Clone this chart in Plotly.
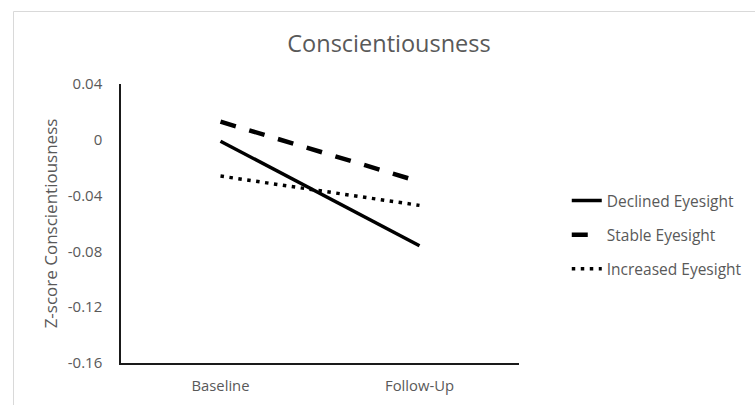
import plotly.graph_objects as go

categories = ["Baseline", "Follow-Up"]
declined = [-0.001, -0.076]
stable = [0.013, -0.030]
increased = [-0.026, -0.047]
series_names = ["Declined Eyesight", "Stable Eyesight", "Increased Eyesight"]
y_ticks = [0.04, 0, -0.04, -0.08, -0.12, -0.16]
y_tick_labels = ["0.04", "0", "-0.04", "-0.08", "-0.12", "-0.16"]

FONT = "Open Sans"
GRAY = "#595959"

fig = go.Figure()
fig.add_trace(go.Scatter(x=categories, y=declined, mode="lines", name=series_names[0],
                         legendgroup="a", line=dict(color="black", width=3.5)))
fig.add_trace(go.Scatter(x=categories, y=stable, mode="lines", name=series_names[1],
                         legendgroup="b", line=dict(color="black", width=4.5, dash="16px,14px")))
fig.add_trace(go.Scatter(x=categories, y=increased, mode="lines", name=series_names[2],
                         legendgroup="c", line=dict(color="black", width=3.5, dash="3.5px,5.5px")))

fig.update_layout(
    width=755, height=405,
    margin=dict(l=121, r=236, t=84, b=42, autoexpand=False),
    paper_bgcolor="white", plot_bgcolor="white",
    font=dict(family=FONT, color=GRAY),
    title=dict(text="Conscientiousness", x=389 / 755, xanchor="center",
               y=1 - 44 / 405, yanchor="middle",
               font=dict(family=FONT, size=23.5, color=GRAY)),
    showlegend=True,
    legend=dict(x=1.12, xanchor="left", y=0.459, yanchor="middle",
                traceorder="grouped", tracegroupgap=11,
                font=dict(family=FONT, size=15.5, color=GRAY),
                bgcolor="rgba(0,0,0,0)"),
    xaxis=dict(type="category", range=[-0.5, 1.5], showgrid=False, zeroline=False,
               automargin=False,
               showline=True, linecolor="#1a1a1a", linewidth=1.5,
               ticks="", ticklabelstandoff=8,
               tickfont=dict(family=FONT, size=14.8, color=GRAY)),
    yaxis=dict(range=[-0.16, 0.04], showgrid=False, zeroline=False,
               automargin=False,
               showline=True, linecolor="#1a1a1a", linewidth=1.5,
               tickvals=y_ticks, ticktext=y_tick_labels, ticks="",
               ticklabelstandoff=14,
               tickfont=dict(family=FONT, size=15, color=GRAY),
               title=dict(text="Z-score Conscientiousness", standoff=6,
                          font=dict(family=FONT, size=17, color=GRAY))),
    shapes=[dict(type="rect", xref="paper", yref="paper",
                 x0=(13.5 - 121) / 398, x1=(760 - 121) / 398,
                 y0=(363 - 410) / 279, y1=(363 - 11.5) / 279,
                 line=dict(color="#d9d9d9", width=1), fillcolor="rgba(0,0,0,0)",
                 layer="below")],
)

fig.write_html("out.html",
               config={"displayModeBar": False},
               post_script="document.body.style.margin='0px';document.body.style.overflow='hidden';")
